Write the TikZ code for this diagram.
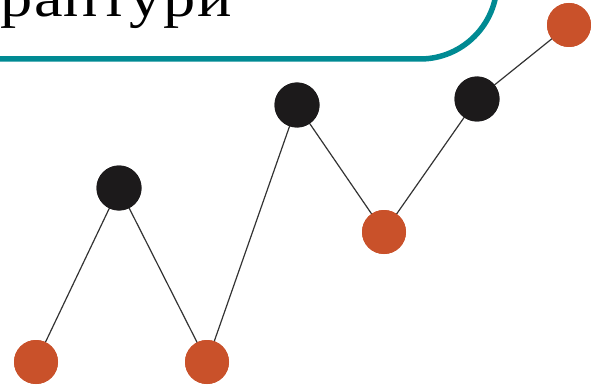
\documentclass[tikz,border=0pt]{standalone}
\usepackage{fontspec}
\setmainfont{Liberation Serif}
\newfontfamily\titlefont[LetterSpace=3]{Liberation Serif}
\definecolor{dotorange}{HTML}{C9512A}
\definecolor{dotblack}{HTML}{1C1A1B}
\definecolor{boxteal}{HTML}{008A93}
\definecolor{linkgray}{HTML}{333333}
\tikzset{
  odot/.style={circle, fill=dotorange, minimum size=44pt, inner sep=0pt},
  bdot/.style={circle, fill=dotblack, minimum size=45pt, inner sep=0pt},
  link/.style={draw=linkgray, line width=1.2pt},
  frame/.style={draw=boxteal, line width=5.5pt, rounded corners=77pt}
}
\begin{document}
\begin{tikzpicture}[x=1pt, y=-1pt]
\useasboundingbox (0,0) rectangle (591,385);
\clip (0,0) rectangle (591,385);
% title box
\draw[frame] (-40,59) -- (497,59) -- (497,-200);
\node[anchor=base west, inner sep=0pt, xscale=1.15, transform shape] (title) at (0,17) {\titlefont\fontsize{56}{60}\selectfont раптури};
% dots
\node[odot] (a) at (36,362) {};
\node[bdot] (b) at (119,188) {};
\node[odot] (c) at (207,362) {};
\node[bdot] (d) at (297,105) {};
\node[odot] (e) at (384,232) {};
\node[bdot] (f) at (477,99) {};
\node[odot] (g) at (569,25) {};
% links
\draw[link] (a.center) -- (b.center) -- (c.center) -- (d.center) -- (e.center) -- (f.center) -- (g.center);
% redraw dots on top
\node[odot] at (a) {};
\node[bdot] at (b) {};
\node[odot] at (c) {};
\node[bdot] at (d) {};
\node[odot] at (e) {};
\node[bdot] at (f) {};
\node[odot] at (g) {};
\end{tikzpicture}
\end{document}
